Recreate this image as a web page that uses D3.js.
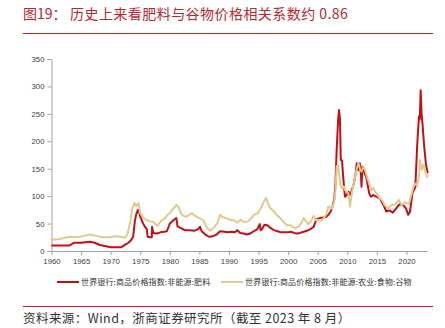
<!DOCTYPE html>
<html>
<head>
<meta charset="utf-8">
<script src="https://cdn.jsdelivr.net/npm/d3@7/dist/d3.min.js"></script>
<style>
  html, body { margin: 0; padding: 0; background: #fff; }
  svg { display: block; }
</style>
</head>
<body>
<script>
// World Bank commodity price indices (2010 = 100), decimal-year dates
const fertDates = [1960.0,1961.0,1962.0,1963.0,1963.5,1963.8,1965.0,1966.5,1967.3,1968.2,1969.0,1970.0,1971.0,1971.8,1972.4,1973.0,1973.4,1973.8,1974.1,1974.3,1974.6,1974.8,1975.0,1975.4,1975.8,1976.1,1976.25,1976.6,1976.95,1977.0,1977.2,1977.8,1978.4,1979.0,1979.5,1980.0,1980.3,1980.6,1981.1,1981.3,1981.8,1982.5,1983.3,1984.2,1984.8,1985.1,1985.4,1986.0,1986.6,1987.3,1987.9,1988.5,1989.2,1989.8,1990.4,1991.0,1991.4,1991.9,1992.5,1993.0,1993.6,1994.2,1994.8,1995.2,1995.35,1995.6,1996.0,1996.5,1997.0,1997.6,1998.2,1998.8,1999.5,2000.0,2000.5,2001.0,2001.5,2002.0,2002.6,2003.2,2003.8,2004.3,2004.8,2005.3,2005.9,2006.4,2006.8,2007.2,2007.5,2007.8,2008.0,2008.2,2008.45,2008.6,2008.75,2008.9,2009.1,2009.35,2009.6,2009.9,2010.2,2010.5,2010.8,2011.1,2011.4,2011.6,2011.85,2012.1,2012.3,2012.4,2012.55,2012.75,2012.9,2013.2,2013.5,2013.7,2014.0,2014.4,2014.9,2015.5,2016.1,2016.6,2017.1,2017.7,2018.3,2018.8,2019.4,2019.9,2020.3,2020.6,2021.0,2021.5,2021.8,2022.1,2022.25,2022.4,2022.55,2022.7,2023.0,2023.3,2023.6];
const fertValues = [10,10,10,10,13,15,15,17,15,11,9,7,7,7,11,15,19,26,55,66,75,72,63,52,44,40,26,25,25,44,33,32,34,35,36,50,53,56,60,45,42,38,38,37,40,44,36,30,26,27,30,36,35,34,35,34,38,33,32,30,32,36,40,49,38,40,48,47,42,38,36,34,34,34,35,33,32,33,35,37,40,44,58,60,61,62,66,72,81,95,123,184,240,257,242,166,165,129,99,102,108,102,112,123,140,160,147,160,140,117,154,150,142,135,117,105,99,102,99,96,84,72,74,70,78,85,84,78,66,72,105,117,190,245,240,293,251,233,190,157,142];

const grainDates = [1960.0,1960.5,1961.4,1962.3,1963.1,1964.0,1964.8,1965.6,1966.5,1967.3,1968.2,1969.0,1969.9,1970.8,1971.6,1972.4,1972.8,1973.0,1973.4,1973.6,1974.0,1974.3,1974.7,1975.0,1975.3,1975.6,1976.1,1976.6,1977.2,1977.9,1978.6,1979.2,1979.6,1980.0,1980.5,1981.1,1981.5,1981.9,1982.5,1982.9,1983.7,1984.3,1985.0,1985.7,1986.3,1986.8,1987.4,1988.0,1988.5,1988.9,1989.5,1990.2,1990.8,1991.4,1992.0,1992.5,1993.2,1993.8,1994.2,1994.8,1995.3,1995.8,1996.3,1996.6,1997.0,1997.6,1998.2,1998.7,1999.3,1999.8,2000.4,2000.8,2001.2,2001.8,2002.3,2002.6,2003.0,2003.4,2003.9,2004.3,2004.7,2005.1,2005.6,2006.0,2006.4,2006.8,2007.4,2007.8,2008.0,2008.2,2008.4,2008.6,2008.8,2009.1,2009.4,2009.6,2009.9,2010.2,2010.45,2010.7,2011.0,2011.3,2011.6,2011.9,2012.2,2012.4,2012.7,2012.9,2013.2,2013.5,2014.1,2014.4,2014.9,2015.5,2015.9,2016.3,2016.9,2017.5,2018.1,2018.7,2019.2,2019.8,2020.4,2020.9,2021.2,2021.5,2021.8,2022.1,2022.3,2022.6,2022.9,2023.2,2023.5,2023.6];
const grainValues = [22,21,22,24,26,25,26,28,30,28,26,25,25,27,26,24,30,38,58,75,88,82,87,69,64,60,56,54,53,46,56,60,66,69,76,84,80,68,63,63,69,64,60,56,42,37,42,50,66,62,60,57,56,52,57,53,54,60,66,68,76,88,97,86,78,72,64,60,52,47,47,44,41,45,52,60,55,49,55,64,56,57,55,60,66,81,77,90,111,154,157,140,123,114,118,111,108,105,81,100,120,135,150,160,147,145,153,151,140,129,111,115,105,96,92,84,78,84,85,93,84,89,86,105,118,123,118,135,166,148,157,145,135,140];

const seriesNames = ["世界银行:商品价格指数:非能源:肥料", "世界银行:商品价格指数:非能源:农业:食物:谷物"];
const seriesColors = ["#c40f18", "#e2c98c"];
const yTicks = [0, 50, 100, 150, 200, 250, 300, 350];
const xTicks = [1960,1965,1970,1975,1980,1985,1990,1995,2000,2005,2010,2015,2020];

const titleLabel = "图19：";
const titleText = "历史上来看肥料与谷物价格相关系数约 0.86";
const sourceText = "资料来源：Wind，浙商证券研究所（截至 2023 年 8 月）";

const W = 445, H = 328;
const svg = d3.select("body").append("svg").attr("width", W).attr("height", H);

const cjk = "'Noto Sans CJK SC', 'Noto Sans', sans-serif";
const red = "#c0202a";

// header
svg.append("text").attr("x", 23).attr("y", 19).attr("fill", "#b9272e")
  .style("font-family", cjk).style("font-size", "14px").text(titleLabel);
svg.append("text").attr("x", 70).attr("y", 19).attr("fill", "#b9272e")
  .style("font-family", cjk).style("font-size", "14px").style("letter-spacing", "0.45px").text(titleText);
svg.append("line").attr("x1", 23).attr("x2", 433).attr("y1", 33.5).attr("y2", 33.5)
  .attr("stroke", red).attr("stroke-width", 1);

// scales
const x = d3.scaleLinear().domain([1960, 2023.47]).range([51.5, 427]);
const y = d3.scaleLinear().domain([0, 350]).range([251, 59]);

// axes
const axisColor = "#a0a0a0";
const gy = svg.append("g").attr("transform", "translate(51.5,0)")
  .call(d3.axisLeft(y).tickValues(yTicks).tickSize(4).tickPadding(3).tickSizeOuter(0));
const gx = svg.append("g").attr("transform", "translate(0,251)")
  .call(d3.axisBottom(x).tickValues(xTicks).tickFormat(d3.format("d")).tickSize(4).tickPadding(3).tickSizeOuter(0));
[gx, gy].forEach(g => {
  g.select(".domain").attr("stroke", axisColor);
  g.selectAll(".tick line").attr("stroke", axisColor);
  g.selectAll(".tick text").attr("fill", "#404040")
    .style("font-family", "'Liberation Sans', Arial, sans-serif").style("font-size", "7.8px");
});

// lines
const line = d3.line().x(d => x(d[0])).y(d => y(d[1]));
const fert = fertDates.map((d, i) => [d, fertValues[i]]);
const grain = grainDates.map((d, i) => [d, grainValues[i]]);

svg.append("path").datum(fert).attr("d", line)
  .attr("fill", "none").attr("stroke", seriesColors[0]).attr("stroke-width", 2)
  .attr("stroke-linejoin", "round");
svg.append("path").datum(grain).attr("d", line)
  .attr("fill", "none").attr("stroke", seriesColors[1]).attr("stroke-width", 2)
  .attr("stroke-linejoin", "round");

// legend
const legendItems = [{x: 57, name: seriesNames[0], color: seriesColors[0]},
                     {x: 221, name: seriesNames[1], color: seriesColors[1]}];
legendItems.forEach(it => {
  svg.append("line").attr("x1", it.x).attr("x2", it.x + 22).attr("y1", 282).attr("y2", 282)
    .attr("stroke", it.color).attr("stroke-width", 2);
  svg.append("text").attr("x", it.x + 24).attr("y", 285).attr("fill", "#333")
    .style("font-family", cjk).style("font-size", "8px").style("letter-spacing", "0.15px").text(it.name);
});

// footer
svg.append("line").attr("x1", 23).attr("x2", 433).attr("y1", 306.5).attr("y2", 306.5)
  .attr("stroke", red).attr("stroke-width", 1);
svg.append("text").attr("x", 23).attr("y", 323).attr("fill", "#333")
  .style("font-family", cjk).style("font-size", "12.5px").style("letter-spacing", "0.45px").text(sourceText);
</script>
</body>
</html>
